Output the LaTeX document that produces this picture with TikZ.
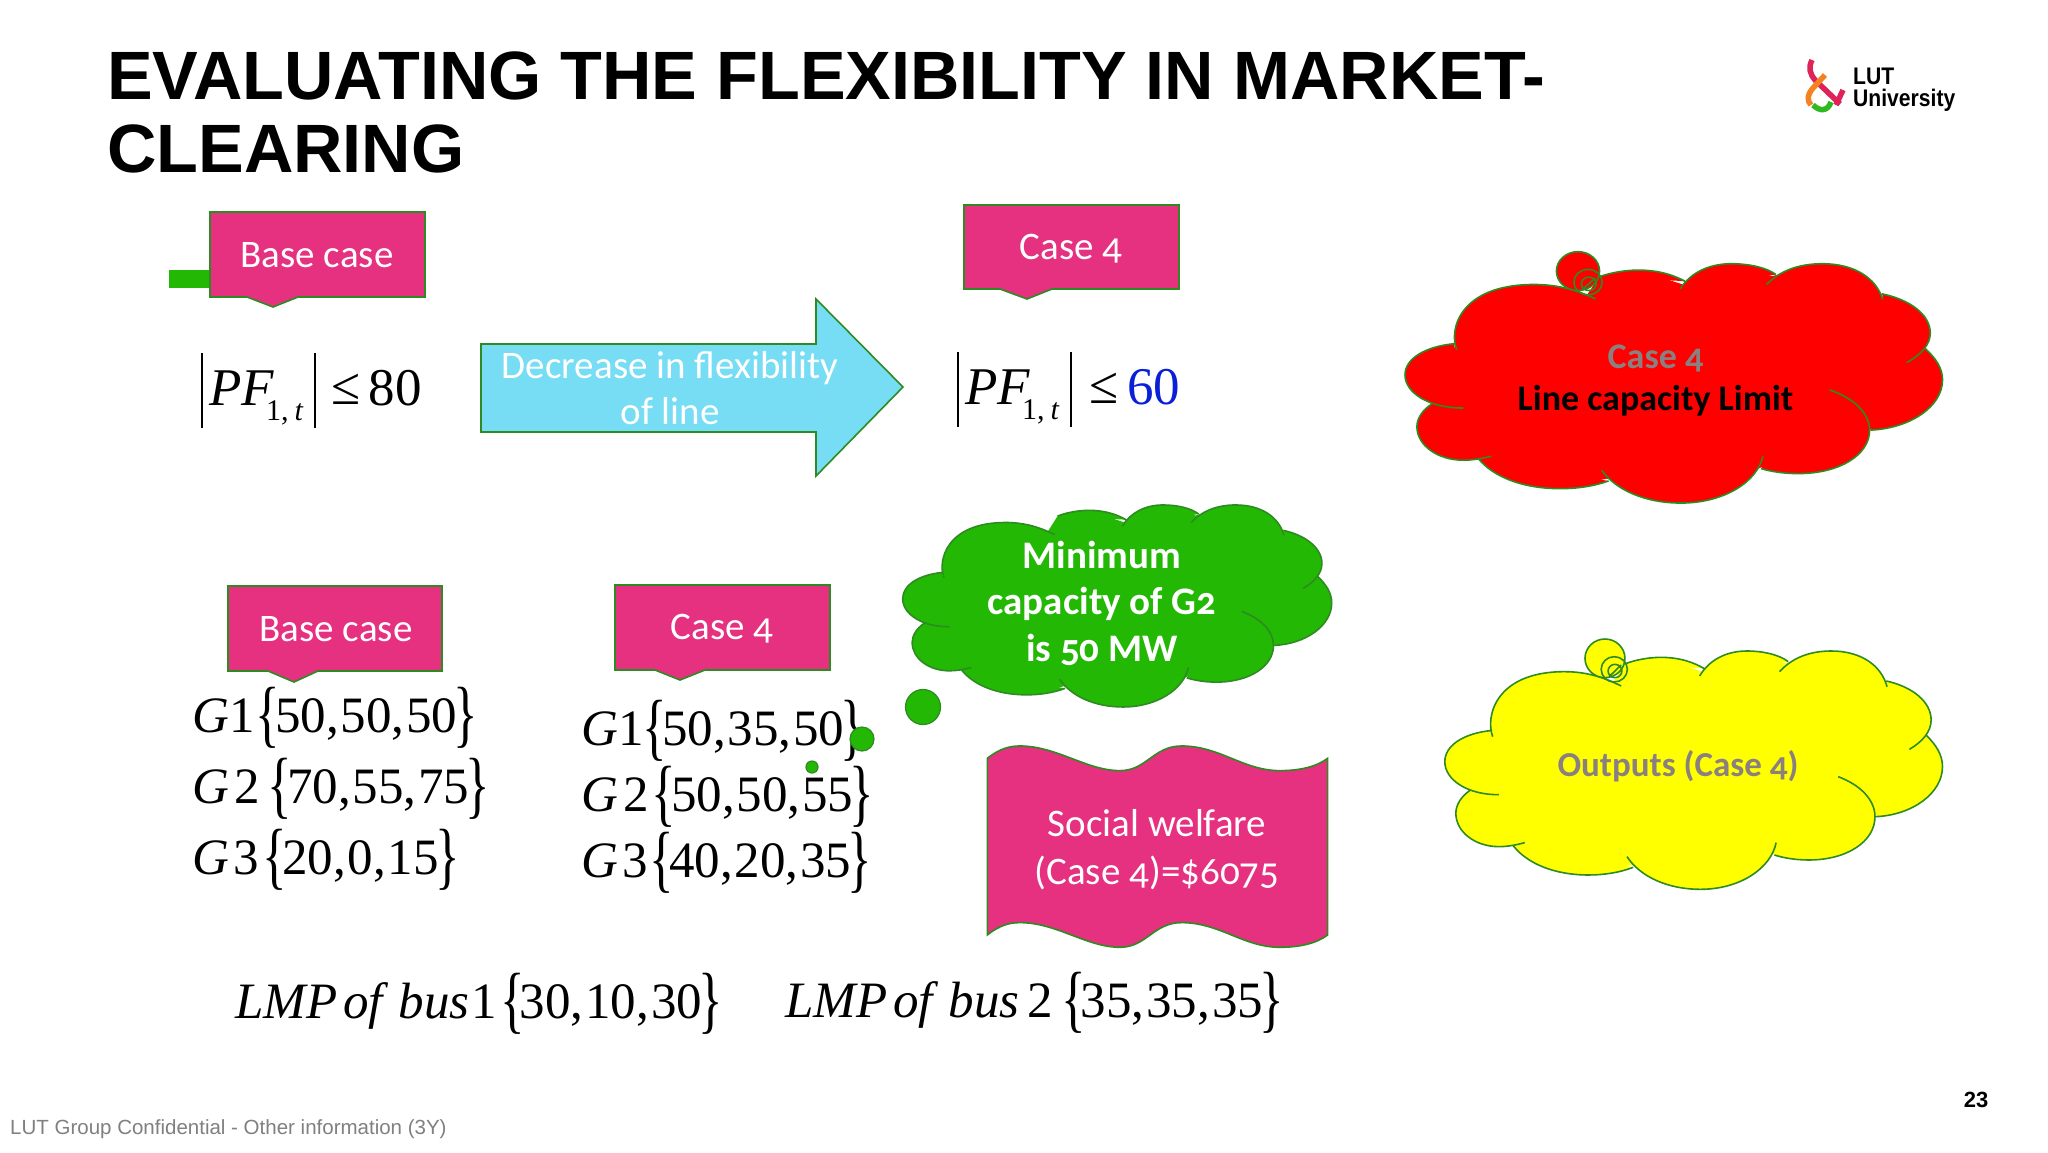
\documentclass[tikz,border=0pt]{standalone}
\usepackage{fontspec}
\setmainfont{Carlito}[Numbers=OldStyle]
\newfontfamily\ttlfont{Liberation Sans}
\newfontfamily\mthfont{Liberation Serif}
\definecolor{pinkfill}{HTML}{E5317F}
\definecolor{edgegreen}{HTML}{2E8B22}
\definecolor{brightgreen}{HTML}{22B804}
\definecolor{arrowblue}{HTML}{76DDF4}
\definecolor{greytext}{HTML}{8A8080}
\definecolor{footgrey}{HTML}{808080}
\definecolor{logopink}{HTML}{DE2358}
\definecolor{logoorange}{HTML}{F58220}
\definecolor{logogreen}{HTML}{2FB81F}
\definecolor{cloudyellow}{HTML}{FFFF00}
\definecolor{cloudred}{HTML}{FF0000}
\definecolor{numblue}{HTML}{0A20D8}
\newcommand\fsz[1]{\fontsize{#1}{#1}\selectfont}
\newcommand\lbr{\raisebox{-6pt}{\scalebox{1}[1.45]{\{}}}
\newcommand\rbr{\raisebox{-6pt}{\scalebox{1}[1.45]{\}}}}
\newcommand\cm{,\kern2pt }
\newcommand\pfbar{\rule[-23pt]{1.8pt}{75pt}}
\newcommand\pfexpr[3]{\mthfont\fsz{53}\makebox[113pt][l]{\pfbar\kern6pt\textit{PF}\kern-8pt\raisebox{-15pt}{\fsz{30}1,\kern6pt\textit{t}}}\pfbar\kern#3pt\makebox[37.5pt][l]{\raisebox{1pt}{≤}}\textcolor{#2}{#1}}
\newcommand\genexpr[4]{\mthfont\fsz{51}\textit{G}\kern#4pt #1\kern#3pt\kern-1pt\lbr\kern-5pt #2\kern-4pt\rbr}
\newcommand\lobes{
 (182,350) .. controls (160,290) and (190,155) .. (390,155) .. controls (460,155) and (510,175) .. (555,198)
 (565,132) .. controls (600,118) and (640,112) .. (670,112) .. controls (730,112) and (770,130) .. (795,145)
 (783,168) .. controls (810,120) and (860,93) .. (920,93) .. controls (970,93) and (1015,105) .. (1040,125)
 (1015,155) .. controls (1050,115) and (1100,93) .. (1165,93) .. controls (1250,93) and (1310,135) .. (1327,200)
 (1325,183) .. controls (1400,200) and (1455,245) .. (1455,300) .. controls (1455,335) and (1430,365) .. (1392,388)
 (1440,345) .. controls (1470,375) and (1488,405) .. (1488,440) .. controls (1488,520) and (1400,585) .. (1295,590)
 (1185,470) .. controls (1250,495) and (1292,540) .. (1292,590) .. controls (1292,665) and (1210,720) .. (1100,720) .. controls (1065,720) and (1030,715) .. (1000,705)
 (1005,668) .. controls (990,745) and (900,808) .. (785,808) .. controls (690,808) and (610,770) .. (572,710)
 (590,742) .. controls (550,758) and (505,765) .. (460,765) .. controls (360,765) and (280,730) .. (240,675)
 (275,668) .. controls (250,675) and (225,680) .. (200,680) .. controls (130,680) and (75,635) .. (75,580) .. controls (75,555) and (90,530) .. (115,512)
 (200,524) .. controls (110,525) and (43,480) .. (43,425) .. controls (43,375) and (100,340) .. (175,332)
}
\newcommand\cloudshape[1]{
 \path[fill=#1] (182,340) -- (390,155) -- (530,190) -- (565,132) -- (670,112) -- (790,155) -- (920,93) -- (1030,130) -- (1165,93) -- (1325,190) -- (1455,300) -- (1440,345) -- (1488,440) -- (1292,590) -- (1100,720) -- (1003,700) -- (785,808) -- (585,735) -- (460,765) -- (245,678) -- (200,680) -- (75,580) -- (115,512) -- (43,425) -- cycle;
 \path[fill=#1,draw=edgegreen,line width=1.6pt] \lobes;
}
\newcommand\snail[1]{
 \path[fill=#1,draw=edgegreen,line width=1.6pt] (508,115) circle (58);
 \path[draw=edgegreen,line width=1.6pt] (535,148) circle (38) (537,153) circle (20) (520,170) -- (555,135);
}
\tikzset{
 x=1pt,y=-1pt,
 callout/.style={fill=pinkfill,draw=edgegreen,line width=1.6pt,line join=miter},
 calltext/.style={anchor=base,inner sep=0pt,text=white,font=\fsz{39}},
 boldlabel/.style={anchor=base,inner sep=0pt,font=\bfseries\fsz{39}},
 mathtext/.style={anchor=base west,inner sep=0pt},
}
\begin{document}
\begin{tikzpicture}
\path[use as bounding box,fill=white] (0,0) rectangle (2048,1152);
% title
\node[anchor=base west,inner sep=0pt,font=\ttlfont\bfseries\fsz{68.4}] (title1) at (107,99) {EVALUATING THE FLEXIBILITY IN MARKET-};
\node[anchor=base west,inner sep=0pt,font=\ttlfont\bfseries\fsz{68.4}] (title2) at (107,172) {CLEARING};
% logo
\draw[logopink,line width=5.5pt,line join=round] (1812,60) .. controls (1808,68) and (1810,74) .. (1815,80) -- (1840,104);
\draw[logopink,line width=5.5pt] (1843,90) -- (1836,105);
\draw[logoorange,line width=5.5pt] (1825,75) -- (1813,88) .. controls (1807,95) and (1807,101) .. (1811,105);
\draw[logogreen,line width=5.5pt] (1813,105) .. controls (1820,112) and (1828,111) .. (1831,102);
\node[anchor=base west,inner sep=0pt] (logoa) at (1853,84) {\ttlfont\bfseries\fsz{24}\scalebox{.88}[1]{LUT}};
\node[anchor=base west,inner sep=0pt] (logob) at (1853,106) {\ttlfont\bfseries\fsz{24}\scalebox{.88}[1]{University}};
% callout 1
\fill[brightgreen] (169,270) rectangle (212,288);
\draw[callout] (210,212) -- (425,212) -- (425,297) -- (298,297) -- (273,307) -- (247,297) -- (210,297) -- cycle;
\node[calltext] (base1) at (317,267) {Base case};
% callout 2
\draw[callout] (964,205) -- (1179,205) -- (1179,289) -- (1052,289) -- (1027,299) -- (1000,289) -- (964,289) -- cycle;
\node[calltext] (case1) at (1071,259) {Case 4};
% callout 3
\draw[callout] (228,586) -- (442,586) -- (442,671) -- (318,671) -- (294,682) -- (268,671) -- (228,671) -- cycle;
\node[calltext] (base2) at (336,641) {Base case};
% callout 4
\draw[callout] (615,585) -- (830,585) -- (830,670) -- (705,670) -- (680,680) -- (655,670) -- (615,670) -- cycle;
\node[calltext] (case2) at (722,639) {Case 4};
% arrow
\draw[fill=arrowblue,draw=edgegreen,line width=1.6pt] (481,344) -- (816,344) -- (816,299) -- (903,387) -- (816,476) -- (816,432) -- (481,432) -- cycle;
\node[calltext] (arrow1) at (670,378) {Decrease in flexibility};
\node[calltext] (arrow2) at (670,424) {of line};
% PF
\node[mathtext] (pf1) at (201,405) {\pfexpr{80}{black}{15}};
\node[mathtext] (pf2) at (957,404) {\pfexpr{60}{numblue}{17.5}};
% generation
\node[mathtext] (g1a) at (192,732) {\genexpr{1}{50\cm 50\cm 50}{2}{0}};
\node[mathtext] (g2a) at (192,803) {\genexpr{2}{70\cm 55\cm 75}{9}{5}};
\node[mathtext] (g3a) at (192,874) {\genexpr{3}{20\cm 0\cm 15}{5}{4}};
\node[mathtext] (g1b) at (581,745) {\genexpr{1}{50\cm 35\cm 50}{0}{0}};
\node[mathtext] (g2b) at (581,811) {\genexpr{2}{50\cm 50\cm 55}{4}{5}};
\node[mathtext] (g3b) at (581,877) {\genexpr{3}{40\cm 20\cm 35}{3}{4}};
% LMP
\node[mathtext] (lmp1) at (235,1018) {\mthfont\fsz{51}\textit{LMP}\kern6pt\textit{of}\kern10pt\textit{bus}\kern2pt 1\kern3pt\lbr\kern-5pt 30\cm 10\cm 30\kern-4pt\rbr};
\node[mathtext] (lmp2) at (785,1017) {\mthfont\fsz{51}\textit{LMP}\kern6pt\textit{of}\kern10pt\textit{bus}\kern8pt 2\kern8pt\lbr\kern-5pt 35\cm 35\cm 35\kern-4pt\rbr};
% green cloud
\begin{scope}[shift={(889.9,478.7)},xscale=.2969,yscale=.2825]
\cloudshape{brightgreen}
\end{scope}
\path[fill=brightgreen,draw=edgegreen,line width=1.2pt] (923,707) circle (17.5) (862,739) circle (12) (812,767) circle (6);
\node[boldlabel,text=white] (min1) at (1102,568) {Minimum};
\node[boldlabel,text=white] (min2) at (1102,614) {capacity of G2};
\node[boldlabel,text=white] (min3) at (1102,661) {is 50 MW};
% wave
\begin{scope}[shift={(880,490)},scale=.3333]
\path[callout] (322,805) .. controls (360,775) and (390,768) .. (420,768) .. controls (530,768) and (620,842) .. (720,842) .. controls (800,842) and (820,768) .. (905,768) .. controls (1020,768) and (1090,842) .. (1200,842) .. controls (1260,842) and (1310,830) .. (1343,805) -- (1343,1335) .. controls (1310,1360) and (1260,1372) .. (1200,1372) .. controls (1090,1372) and (1020,1298) .. (905,1298) .. controls (820,1298) and (800,1372) .. (720,1372) .. controls (620,1372) and (530,1298) .. (420,1298) .. controls (390,1298) and (360,1305) .. (322,1335) -- cycle;
\end{scope}
\node[calltext] (sw1) at (1157,836) {Social welfare};
\node[calltext] (sw2) at (1157,884) {(Case 4)=\$6075};
% red cloud
\begin{scope}[shift={(1389,232.6)},xscale=.372,yscale=.3347]
\cloudshape{cloudred}
\snail{cloudred}
\end{scope}
\node[boldlabel,text=greytext,font=\bfseries\fsz{36}] (red1) at (1655.5,368) {Case 4};
\node[boldlabel,text=black,font=\bfseries\fsz{36}] (red2) at (1655.5,410) {Line capacity Limit};
% yellow cloud
\begin{scope}[shift={(1430,620)},xscale=.3444,yscale=.3333]
\cloudshape{cloudyellow}
\snail{cloudyellow}
\end{scope}
\node[boldlabel,text=greytext,font=\bfseries\fsz{35}] (yel) at (1678,776) {Outputs (Case 4)};
% footer
\node[anchor=base west,inner sep=0pt,text=footgrey,font=\ttlfont\fsz{20.5}] (foot) at (10,1134) {LUT Group Confidential - Other information (3Y)};
\node[anchor=base,inner sep=0pt,font=\ttlfont\bfseries\fsz{22}] (page) at (1976,1107) {23};
\end{tikzpicture}
\end{document}
